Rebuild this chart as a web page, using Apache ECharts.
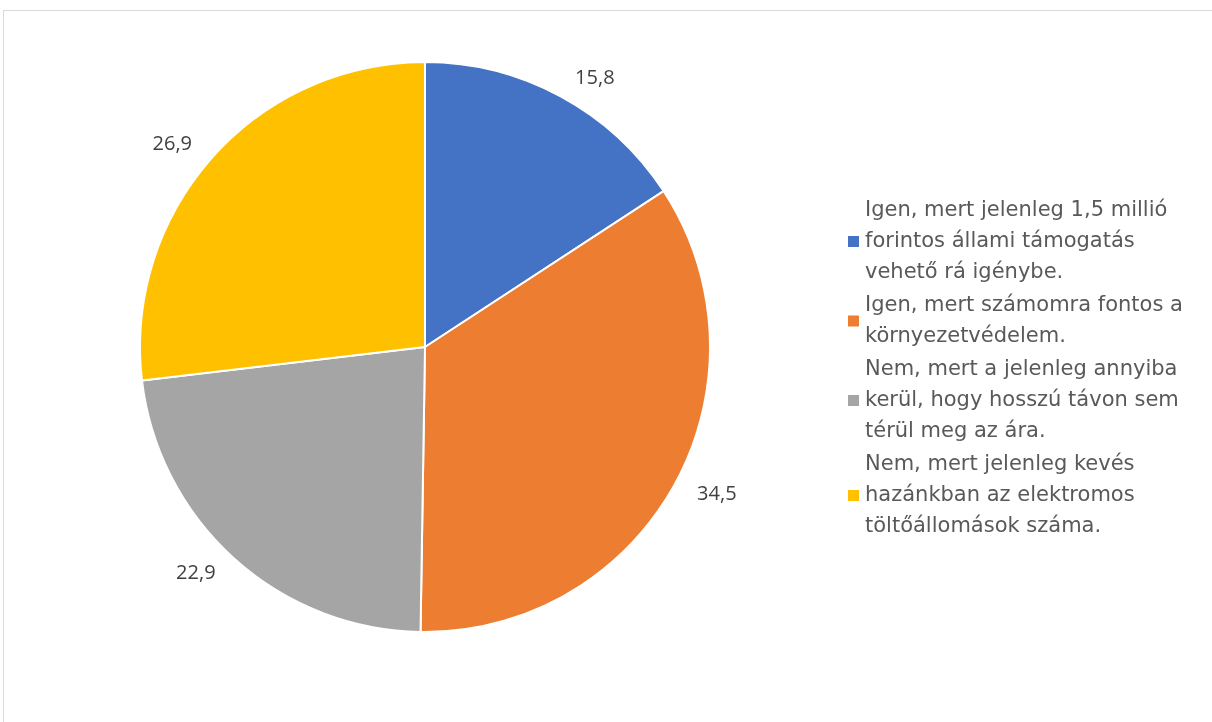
<!DOCTYPE html>
<html>
<head>
<meta charset="utf-8">
<script src="https://cdn.jsdelivr.net/npm/echarts@6/dist/echarts.min.js"></script>
<style>
html,body{margin:0;padding:0;background:#fff;}
#frame{position:absolute;left:3px;top:10px;width:1300px;height:800px;border:1px solid #d9d9d9;box-sizing:border-box;}
#chart{position:absolute;left:0;top:0;width:1212px;height:722px;}
</style>
</head>
<body>
<div id="frame"></div>
<div id="chart"></div>
<script>
const categories = [
  "Igen, mert jelenleg 1,5 millió\nforintos állami támogatás\nvehető rá igénybe.",
  "Igen, mert számomra fontos a\nkörnyezetvédelem.",
  "Nem, mert a jelenleg annyiba\nkerül, hogy hosszú távon sem\ntérül meg az ára.",
  "Nem, mert jelenleg kevés\nhazánkban az elektromos\ntöltőállomások száma."
];
const values = [15.8, 34.5, 22.9, 26.9];
const colors = ["#4472C4", "#ED7D31", "#A5A5A5", "#FFC000"];

const chart = echarts.init(document.getElementById('chart'), null, {renderer:'canvas'});
chart.setOption({
  backgroundColor: 'transparent',
  animation: false,
  color: colors,
  legend: {
    orient: 'vertical',
    left: 846,
    top: 195,
    padding: 0,
    itemWidth: 13,
    itemHeight: 13,
    itemGap: 2,
    icon: 'rect',
    textStyle: {
      fontFamily: '"DejaVu Sans"',
      fontSize: 21,
      lineHeight: 31,
      color: '#595959'
    },
    data: categories
  },
  series: [{
    type: 'pie',
    center: [425, 347],
    radius: [0, 285],
    startAngle: 90,
    clockwise: true,
    data: categories.map((c, i) => ({name: c, value: values[i]})),
    itemStyle: {borderColor: '#fff', borderWidth: 2},
    label: {
      show: true,
      position: 'outside',
      formatter: p => String(p.value).replace('.', ','),
      fontFamily: 'Open Sans',
      fontSize: 20,
      color: '#404040'
    },
    labelLine: {show: false, length: 20, length2: 0},
    emphasis: {disabled: true}
  }]
});
</script>
</body>
</html>
